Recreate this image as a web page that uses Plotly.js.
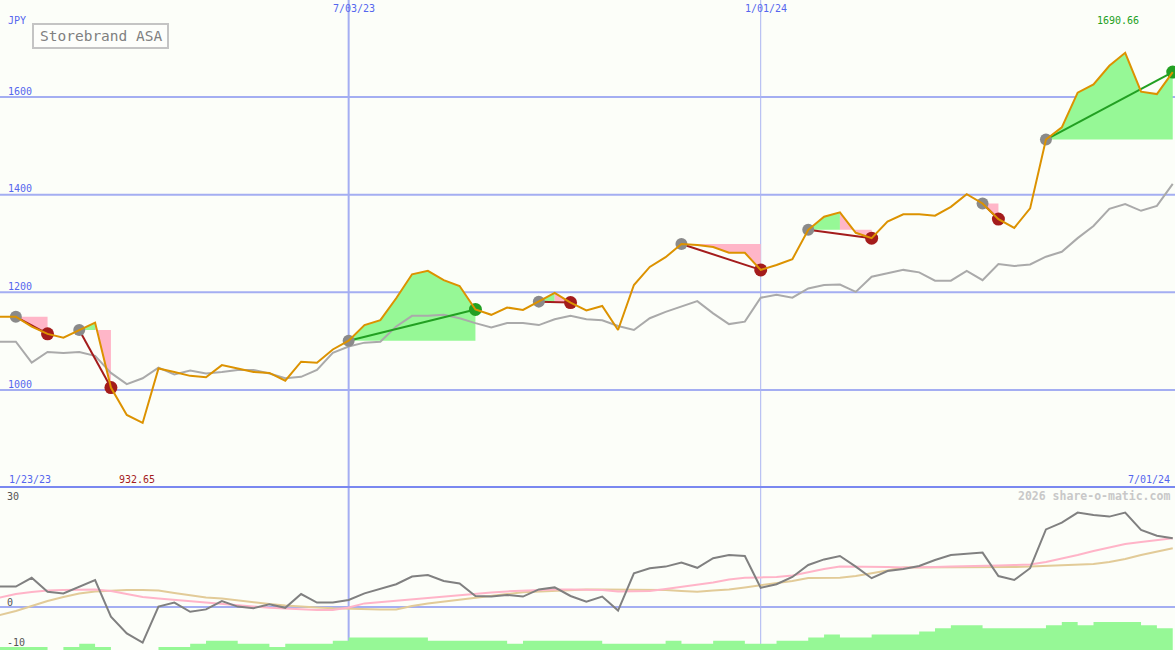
<!DOCTYPE html>
<html>
<head>
<meta charset="utf-8">
<script src="https://cdn.plot.ly/plotly-3.0.1.min.js"></script>
<style>
html,body{margin:0;padding:0;background:#fcfef9;}
#chart{width:1175px;height:650px;}
</style>
</head>
<body>
<div id="chart"></div>
<script>
// ---------- DATA ----------
const dates = [
 '2023-01-23','2023-01-30','2023-02-06','2023-02-13','2023-02-20','2023-02-27','2023-03-06','2023-03-13','2023-03-20','2023-03-27',
 '2023-04-03','2023-04-10','2023-04-17','2023-04-24','2023-05-01','2023-05-08','2023-05-15','2023-05-22','2023-05-29','2023-06-05',
 '2023-06-12','2023-06-19','2023-06-26','2023-07-03','2023-07-10','2023-07-17','2023-07-24','2023-07-31','2023-08-07','2023-08-14',
 '2023-08-21','2023-08-28','2023-09-04','2023-09-11','2023-09-18','2023-09-25','2023-10-02','2023-10-09','2023-10-16','2023-10-23',
 '2023-10-30','2023-11-06','2023-11-13','2023-11-20','2023-11-27','2023-12-04','2023-12-11','2023-12-18','2023-12-25','2024-01-01',
 '2024-01-08','2024-01-15','2024-01-22','2024-01-29','2024-02-05','2024-02-12','2024-02-19','2024-02-26','2024-03-04','2024-03-11',
 '2024-03-18','2024-03-25','2024-04-01','2024-04-08','2024-04-15','2024-04-22','2024-04-29','2024-05-06','2024-05-13','2024-05-20',
 '2024-05-27','2024-06-03','2024-06-10','2024-06-17','2024-06-24','2024-07-01'
];
const price = [
 1150,1150,1150,1130,1115,1107,1123,1138,1005,949,
 932.65,1044,1037,1029,1026,1051,1044,1037,1035,1019,
 1058,1056,1083,1101,1133,1143,1188,1237,1244,1225,
 1213,1165,1154,1169,1164,1181,1199,1179,1163,1172,
 1123,1215,1252,1272,1299,1297,1293,1281,1281,1246,
 1256,1268,1328,1355,1364,1322,1311,1345,1360,1360,
 1357,1375,1401,1382,1350,1332,1372,1513,1538,1609,
 1626,1664,1690.66,1611,1606,1651
];
const benchmark = [
 1099,1099,1099,1056,1078,1076,1078,1070,1035,1012,
 1024,1046,1032,1040,1034,1037,1041,1041,1034,1024,
 1027,1041,1076,1089,1097,1099,1130,1152,1152,1154,
 1147,1137,1128,1137,1137,1133,1145,1152,1145,1143,
 1131,1123,1147,1160,1171,1182,1157,1135,1140,1189,
 1195,1189,1208,1215,1216,1201,1232,1239,1246,1241,
 1224,1224,1244,1225,1258,1254,1257,1273,1283,1311,
 1336,1371,1381,1367,1377,1422
];
const momentum = [
 5.1,5.1,5.1,7.3,3.8,3.4,5.1,6.75,-2.4,-6.6,
 -8.9,0.1,1.1,-1.2,-0.6,1.5,0.1,-0.3,0.7,-0.2,
 3.25,1.1,1.1,1.75,3.4,4.5,5.7,7.6,8.0,6.5,
 5.9,2.75,2.6,3.0,2.6,4.4,4.9,2.75,1.3,2.6,
 -0.9,8.4,9.7,10.1,11.1,9.8,12.2,13.0,12.75,4.8,
 5.7,7.5,10.5,11.9,12.75,10.1,7.2,9.0,9.5,10.25,
 11.75,13.0,13.25,13.6,7.75,6.75,9.7,19.4,21.1,23.6,
 23.0,22.6,23.6,19.25,17.8,17.2
];
const avgFast = [
 1.5,2.3,3.25,3.75,4.1,4.25,4.4,4.4,4.0,3.25,
 2.5,2.1,1.75,1.4,1.1,0.75,0.4,0.1,-0.2,-0.4,
 -0.6,-0.75,-0.75,-0.1,0.9,1.25,1.5,1.9,2.25,2.6,
 3.0,3.4,3.6,3.9,4.1,4.25,4.4,4.4,4.4,4.25,
 3.9,3.9,4.0,4.5,5.0,5.5,6.1,6.9,7.3,7.4,
 7.5,7.9,8.75,9.5,10.1,10.1,10.1,10.0,9.9,9.9,
 10.0,10.1,10.25,10.25,10.4,10.5,10.6,11.25,12.1,13.0,
 14.0,14.9,15.75,16.25,16.75,17.2
];
const avgSlow = [
 -3.0,-2.0,-1.0,0.25,1.5,2.5,3.4,3.9,4.1,4.25,
 4.25,4.1,3.5,2.9,2.4,2.1,1.6,1.25,0.75,0.4,
 0.1,-0.1,-0.3,-0.4,-0.6,-0.6,-0.6,0.25,0.9,1.4,
 1.9,2.4,2.75,3.25,3.7,3.9,4.1,4.25,4.4,4.4,
 4.4,4.4,4.4,4.25,4.0,3.8,4.1,4.4,4.9,5.4,
 6.0,6.5,7.25,7.3,7.3,7.75,8.4,9.1,9.9,9.9,
 9.9,9.9,9.9,9.9,9.9,10.0,10.1,10.25,10.4,10.5,
 10.75,11.25,12.0,13.0,13.9,14.7
];
const volume = [
 1,1,1,1,0,1,2,1,0,0,
 0,1,1,2,3,3,2,2,1,2,
 2,2,3,4,4,4,4,4,3,3,
 3,3,3,2,3,3,3,3,3,2,
 2,2,2,3,2,2,3,3,2,2,
 3,3,4,5,4,4,5,5,5,6,
 7,8,8,7,7,7,7,8,9,8,
 9,9,9,8,7,7
];
// trades: [buy index, sell index]
const trades = [[2,4],[6,8],[23,31],[35,37],[44,49],[52,56],[63,64],[67,75]];
const priceTicks = [1000,1200,1400,1600];
const dateLines = ['2023-07-03','2024-01-01'];

// ---------- STYLE ----------
const W = 1175, H = 650;
const SPLIT = 487;              // pixel row of panel separator
const BG = '#fcfef9';
const GRID = '#a4aef2';
const BLUE_TXT = '#5566ee';
const ORANGE = '#dc9200';
const GREEN_FILL = '#96f896';
const PINK_FILL = '#ffb6c8';
const LOSS = '#a41c1c';
const WIN = '#22a022';
const FONT = 'DejaVu Sans Mono, Liberation Mono, monospace';

const px = x => x / W;
const py = y => 1 - y / H;

const traces = [];

// trade fills (per segment colour by segment end vs buy level)
trades.forEach(([a, b]) => {
  const buy = price[a];
  let s = a;
  while (s < b) {
    const col = price[s + 1] >= buy;
    let e = s + 1;
    while (e < b && (price[e + 1] >= buy) === col) e++;
    const xs = [dates[s]], ys = [buy];
    for (let j = s; j <= e; j++) { xs.push(dates[j]); ys.push(price[j]); }
    xs.push(dates[e]); ys.push(buy);
    traces.push({x: xs, y: ys, type: 'scatter', mode: 'lines', fill: 'toself',
      fillcolor: col ? GREEN_FILL : PINK_FILL, line: {width: 0}, hoverinfo: 'skip'});
    s = e;
  }
});

// benchmark
traces.push({x: dates, y: benchmark, type: 'scatter', mode: 'lines',
  line: {color: '#aaaaaa', width: 2}, hoverinfo: 'skip'});

// trade connector lines
trades.forEach(([a, b]) => {
  const win = price[b] > price[a];
  traces.push({x: [dates[a], dates[b]], y: [price[a], price[b]], type: 'scatter', mode: 'lines',
    line: {color: win ? WIN : LOSS, width: 2}, hoverinfo: 'skip'});
});

// buy markers
traces.push({x: trades.map(t => dates[t[0]]), y: trades.map(t => price[t[0]]), type: 'scatter', mode: 'markers',
  marker: {color: '#8a8a8a', size: 12}, hoverinfo: 'skip'});
// sell markers
traces.push({x: trades.map(t => dates[t[1]]), y: trades.map(t => price[t[1]]), type: 'scatter', mode: 'markers',
  marker: {color: trades.map(t => price[t[1]] > price[t[0]] ? WIN : LOSS), size: 13}, hoverinfo: 'skip'});

// price line
traces.push({x: dates, y: price, type: 'scatter', mode: 'lines',
  line: {color: ORANGE, width: 2}, hoverinfo: 'skip'});

// lower panel
traces.push({x: dates, y: volume, type: 'scatter', mode: 'lines', yaxis: 'y3',
  line: {width: 0, shape: 'hv'}, fill: 'tozeroy', fillcolor: '#96f896', hoverinfo: 'skip'});
traces.push({x: dates, y: avgSlow, type: 'scatter', mode: 'lines', yaxis: 'y2',
  line: {color: '#e2cb98', width: 2}, hoverinfo: 'skip'});
traces.push({x: dates, y: avgFast, type: 'scatter', mode: 'lines', yaxis: 'y2',
  line: {color: '#ffb4c8', width: 2}, hoverinfo: 'skip'});
traces.push({x: dates, y: momentum, type: 'scatter', mode: 'lines', yaxis: 'y2',
  line: {color: '#808080', width: 2}, hoverinfo: 'skip'});

// ---------- SHAPES ----------
const shapes = [];
priceTicks.forEach(v => shapes.push({type: 'line', xref: 'paper', yref: 'y', x0: 0, x1: 1, y0: v, y1: v,
  line: {color: GRID, width: 2}, layer: 'below'}));
shapes.push({type: 'line', xref: 'paper', yref: 'y2', x0: 0, x1: 1, y0: 0, y1: 0,
  line: {color: GRID, width: 2}, layer: 'below'});
shapes.push({type: 'line', xref: 'x', yref: 'paper', x0: dateLines[0], x1: dateLines[0], y0: 0, y1: 1,
  line: {color: GRID, width: 2}, layer: 'below'});
shapes.push({type: 'line', xref: 'x', yref: 'paper', x0: dateLines[1], x1: dateLines[1], y0: 0, y1: 1,
  line: {color: '#aab4f2', width: 1}, layer: 'below'});
shapes.push({type: 'line', xref: 'paper', yref: 'paper', x0: 0, x1: 1, y0: py(SPLIT), y1: py(SPLIT),
  line: {color: '#7a88f0', width: 2}, layer: 'above'});
shapes.push({type: 'rect', xref: 'paper', yref: 'paper', x0: px(33), x1: px(168), y0: py(48), y1: py(24),
  line: {color: '#c4c4c4', width: 2}, fillcolor: '#fdfefb', layer: 'above'});

// ---------- ANNOTATIONS ----------
const ann = [];
function txt(text, x, y, color, size, xanchor, extra) {
  ann.push(Object.assign({text: text, xref: 'paper', yref: 'paper', x: px(x), y: py(y),
    xanchor: xanchor || 'left', yanchor: 'middle', showarrow: false,
    font: {family: FONT, size: size || 10, color: color}}, extra || {}));
}
txt('JPY', 6, 21, BLUE_TXT, 10);
priceTicks.forEach(v => ann.push({text: String(v), xref: 'paper', yref: 'y', x: px(6), y: v, yshift: 6,
  xanchor: 'left', yanchor: 'middle', showarrow: false, font: {family: FONT, size: 10, color: BLUE_TXT}}));
txt('7/03/23', 354, 9, BLUE_TXT, 10, 'center');
txt('1/01/24', 766, 9, BLUE_TXT, 10, 'center');
txt('1/23/23', 7, 479, BLUE_TXT, 10);
txt('932.65', 137, 479, '#a41c1c', 10, 'center');
txt('7/01/24', 1172, 479, BLUE_TXT, 10, 'right');
txt('1690.66', 1118, 21, '#22a022', 10, 'center');
txt('Storebrand ASA', 100.5, 36.5, '#808080', 14.5, 'center');
txt('2026 share-o-matic.com', 1172, 496, '#c8c8c8', 11.5, 'right', {font: {family: FONT, size: 11.5, color: '#c8c8c8', weight: 'bold'}});
txt('30', 5, 496, '#555555', 10);
txt('0', 5, 602, '#555555', 10);
txt('-10', 5, 642, '#555555', 10);

// ---------- LAYOUT ----------
const split = 1 - SPLIT / H;
const hidden = {showgrid: false, zeroline: false, showline: false, showticklabels: false, ticks: ''};
const layout = {
  width: W, height: H,
  margin: {l: 0, r: 0, t: 0, b: 0, pad: 0},
  paper_bgcolor: BG, plot_bgcolor: BG,
  showlegend: false, hovermode: false,
  xaxis: Object.assign({type: 'date', range: ['2023-01-30', '2024-07-02'], anchor: 'y2'}, hidden),
  yaxis: Object.assign({domain: [split, 1], range: [801.4, 1798.7], anchor: 'x'}, hidden),
  yaxis2: Object.assign({domain: [0, split], range: [-10.75, 30], anchor: 'x'}, hidden),
  yaxis3: Object.assign({overlaying: 'y2', range: [0, 52.6], anchor: 'x'}, hidden),
  shapes: shapes,
  annotations: ann
};

Plotly.newPlot('chart', traces, layout, {staticPlot: true, displayModeBar: false});
</script>
</body>
</html>
